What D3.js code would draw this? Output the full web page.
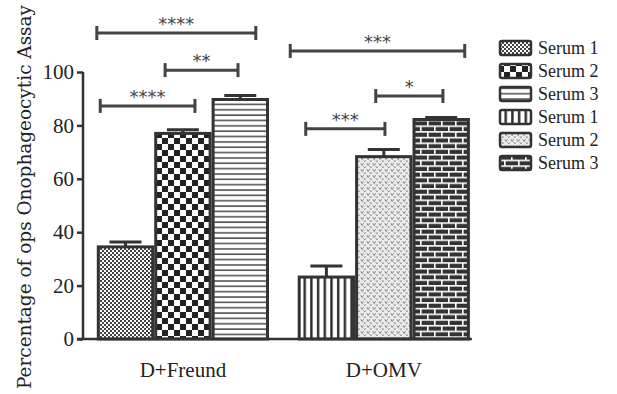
<!DOCTYPE html>
<html><head><meta charset="utf-8">
<script src="https://cdn.jsdelivr.net/npm/d3@7"></script>
<style>body{margin:0;background:#fff}svg{display:block}</style>
</head><body><svg id="c" width="617" height="394"></svg>
<script>
// ---- data ----
const groups = ["D+Freund", "D+OMV"];
const legendLabels = ["Serum 1", "Serum 2", "Serum 3", "Serum 1", "Serum 2", "Serum 3"];
const freundMeans = [34.5, 77.0, 89.7];
const freundErrs = [1.8, 1.4, 1.5];
const omvMeans = [23.2, 68.3, 82.2];
const omvErrs = [4.1, 2.7, 0.8];
const yTicks = [0, 20, 40, 60, 80, 100];
// significance brackets: [from slot, to slot, level (y value), stars]
const sigFrom = [-0.5, 0.69, -0.44, 2.87, 4.36, 3.14];
const sigTo = [2.27, 1.96, 1.21, 5.91, 5.53, 4.52];
const sigLevel = [114.6, 100.7, 87.3, 107.9, 91.0, 78.7];
const sigStars = ["****", "**", "****", "***", "*", "***"];
const barSlots = [0, 1, 2, 3.5, 4.5, 5.5];
const groupSlots = [1, 4.5];

const svg = d3.select("#c");
const dark = "#333";
const y = d3.scaleLinear().domain([0, 100]).range([339, 72]);
const x = d3.scaleLinear().domain([0, 1]).range([125.5, 182.9]); // slot -> pixel centre
const bw = x(1) - x(0);

// ---- patterns ----
const defs = svg.append("defs");
function pat(id, w, h, draw) {
  const p = defs.append("pattern").attr("id", id).attr("patternUnits", "userSpaceOnUse")
    .attr("width", w).attr("height", h);
  draw(p);
}
pat("p1", 4, 4, p => {
  p.append("rect").attr("width", 4).attr("height", 4).attr("fill", "#fff");
  p.append("rect").attr("width", 2).attr("height", 2).attr("fill", "#444");
  p.append("rect").attr("x", 2).attr("y", 2).attr("width", 2).attr("height", 2).attr("fill", "#444");
});
pat("p2", 12, 12, p => {
  p.append("rect").attr("width", 12).attr("height", 12).attr("fill", "#fff");
  p.append("rect").attr("width", 6).attr("height", 6).attr("fill", "#222");
  p.append("rect").attr("x", 6).attr("y", 6).attr("width", 6).attr("height", 6).attr("fill", "#222");
});
pat("p3", 10, 5.35, p => {
  p.append("rect").attr("width", 10).attr("height", 5.35).attr("fill", "#fff");
  p.append("rect").attr("y", 2).attr("width", 10).attr("height", 1.6).attr("fill", "#555");
});
pat("p4", 6.7, 10, p => {
  p.append("rect").attr("width", 6.7).attr("height", 10).attr("fill", "#fff");
  p.append("rect").attr("x", 2).attr("width", 2.4).attr("height", 10).attr("fill", "#2a2a2a");
});
pat("p5", 6, 6, p => {
  p.append("rect").attr("width", 6).attr("height", 6).attr("fill", "#ebebeb");
  p.append("path").attr("d", "M0.8,1.2 L2.2,3.6 L3.6,1.2 M3.8,4.4 L4.8,5.8 L5.8,4.4").attr("stroke", "#7a7a7a")
    .attr("stroke-width", 0.9).attr("fill", "none");
});
pat("p6", 14, 11.4, p => {
  p.append("rect").attr("width", 14).attr("height", 11.4).attr("fill", "#333");
  p.append("rect").attr("y", 0).attr("width", 14).attr("height", 1.6).attr("fill", "#fff");
  p.append("rect").attr("y", 5.7).attr("width", 14).attr("height", 1.6).attr("fill", "#fff");
  p.append("rect").attr("x", 0).attr("y", 0).attr("width", 1.6).attr("height", 5.7).attr("fill", "#fff");
  p.append("rect").attr("x", 7).attr("y", 5.7).attr("width", 1.6).attr("height", 5.7).attr("fill", "#fff");
});
const patIds = ["p1", "p2", "p3", "p4", "p5", "p6"];

// ---- bars ----
const means = freundMeans.concat(omvMeans);
const errs = freundErrs.concat(omvErrs);
const bars = means.map((m, i) => ({ m, e: errs[i], s: barSlots[i], p: patIds[i] }));

// error bars (drawn first so bar outline overlaps)
const eg = svg.append("g").attr("stroke", dark).attr("stroke-width", 3);
bars.forEach(d => {
  eg.append("line").attr("x1", x(d.s)).attr("x2", x(d.s)).attr("y1", y(d.m)).attr("y2", y(d.m + d.e));
  eg.append("line").attr("x1", x(d.s) - 16).attr("x2", x(d.s) + 16).attr("y1", y(d.m + d.e)).attr("y2", y(d.m + d.e));
});

svg.append("g").selectAll("rect").data(bars).join("rect")
  .attr("x", d => x(d.s) - bw / 2 + 1.5)
  .attr("width", bw - 3)
  .attr("y", d => y(d.m))
  .attr("height", d => y(0) - y(d.m))
  .attr("fill", d => `url(#${d.p})`)
  .attr("stroke", dark).attr("stroke-width", 3);

// ---- axes ----
const yAxis = svg.append("g").attr("transform", "translate(83,0)")
  .call(d3.axisLeft(y).tickValues(yTicks).tickSize(6).tickPadding(3));
yAxis.select(".domain").attr("stroke", dark).attr("stroke-width", 2.5).attr("d", `M0,${y(100)}V${y(0)}`);
yAxis.selectAll(".tick line").attr("stroke", dark).attr("stroke-width", 2.5);
yAxis.selectAll(".tick text").attr("font-family", "Liberation Serif").attr("font-size", 21).attr("fill", "#222");

svg.append("line").attr("x1", 77).attr("x2", x(5.5) + bw / 2 + 2)
  .attr("y1", y(0)).attr("y2", y(0)).attr("stroke", dark).attr("stroke-width", 2.5);

svg.append("g").selectAll("text").data(groups).join("text")
  .attr("x", (d, i) => x(groupSlots[i])).attr("y", 377)
  .attr("text-anchor", "middle").attr("font-family", "Liberation Serif").attr("font-size", 21)
  .attr("fill", "#222").text(d => d);

svg.append("text").attr("transform", "translate(31,197) rotate(-90)")
  .attr("text-anchor", "middle").attr("font-family", "DejaVu Serif").attr("font-size", 18)
  .attr("textLength", 384).attr("lengthAdjust", "spacingAndGlyphs")
  .attr("fill", "#222").text("Percentage of ops Onophageocytic Assay");

// ---- significance brackets ----
const sg = svg.append("g");
sigLevel.forEach((lv, i) => {
  const x1 = x(sigFrom[i]), x2 = x(sigTo[i]), yy = y(lv);
  const g = sg.append("g").attr("stroke", "#444").attr("stroke-width", 3);
  g.append("line").attr("x1", x1).attr("x2", x2).attr("y1", yy).attr("y2", yy);
  g.append("line").attr("x1", x1).attr("x2", x1).attr("y1", yy - 7).attr("y2", yy + 7);
  g.append("line").attr("x1", x2).attr("x2", x2).attr("y1", yy - 7).attr("y2", yy + 7);
  sg.append("text").attr("x", (x1 + x2) / 2).attr("y", yy - 3).attr("text-anchor", "middle")
    .attr("font-family", "DejaVu Sans").attr("font-size", 18).attr("fill", "#444").text(sigStars[i]);
});

// ---- legend ----
const lg = svg.append("g");
legendLabels.forEach((t, i) => {
  const cy = 48 + i * 23;
  lg.append("rect").attr("x", 500).attr("y", cy - 7).attr("width", 31).attr("height", 14).attr("rx", 2)
    .attr("fill", `url(#${patIds[i]})`).attr("stroke", dark).attr("stroke-width", 2.5);
  lg.append("text").attr("x", 538).attr("y", cy + 6).attr("font-family", "Liberation Serif")
    .attr("font-size", 18).attr("fill", "#222").text(t);
});
</script></body></html>
